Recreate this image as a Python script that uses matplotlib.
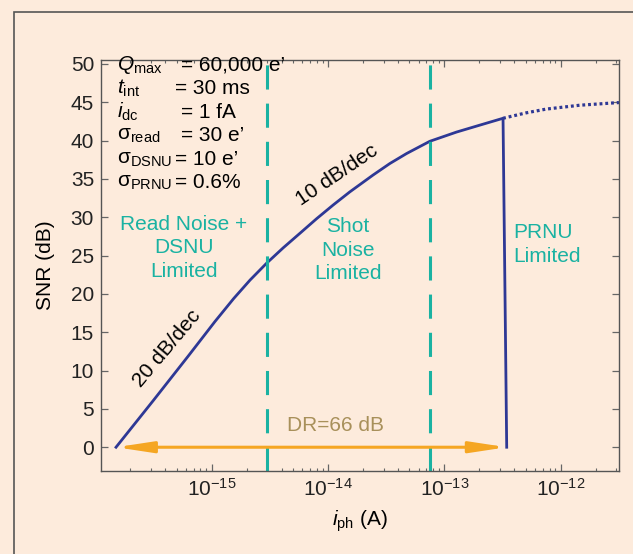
import numpy as np
import matplotlib
matplotlib.use("Agg")
import matplotlib.pyplot as plt
from matplotlib.patches import Rectangle
from matplotlib.ticker import FixedLocator, LogLocator, NullFormatter

plt.rcParams['font.family'] = ['Liberation Sans', 'DejaVu Sans']
plt.rcParams['mathtext.fontset'] = 'custom'
plt.rcParams['mathtext.rm'] = 'Liberation Sans'
plt.rcParams['mathtext.it'] = 'Liberation Sans:italic'
plt.rcParams['mathtext.bf'] = 'Liberation Sans:bold'

# SNR curve (photocurrent in A, SNR in dB)
i_solid = [1.51e-16, 3.16e-16, 6.31e-16, 1.07e-15, 1.55e-15, 2.14e-15, 2.97e-15,
           4.12e-15, 5.74e-15, 7.98e-15, 1.11e-14, 1.54e-14, 2.44e-14, 3.40e-14,
           4.73e-14, 7.50e-14, 1.27e-13, 2.01e-13, 3.19e-13, 3.43e-13]
snr_solid = [0.0, 6.1, 11.9, 16.4, 19.4, 21.8, 24.0,
             26.0, 27.9, 29.8, 31.6, 33.3, 35.5, 37.0,
             38.3, 39.9, 41.1, 42.0, 42.9, 0.0]

# saturated part (dotted)
i_dot = [3.19e-13, 5.01e-13, 7.5e-13, 1.45e-12, 3.16e-12]
snr_dot = [42.9, 43.6, 44.1, 44.6, 44.95]

# region boundaries and dynamic range arrow
bounds = [3.0e-15, 7.5e-14]
dr_range = [1.51e-16, 3.43e-13]
xticks = [1e-15, 1e-14, 1e-13, 1e-12]

params = [('$\\mathit{Q}_{\\mathrm{max}}$', '= 60,000 e\u2019'),
          ('$\\mathit{t}_{\\mathrm{int}}$', '= 30 ms'),
          ('$\\mathit{i}_{\\mathrm{dc}}$', '= 1 fA'),
          ('$\\mathrm{σ}_{\\mathrm{read}}$', '= 30 e\u2019'),
          ('$\\mathrm{σ}_{\\mathrm{DSNU}}$', '= 10 e\u2019'),
          ('$\\mathrm{σ}_{\\mathrm{PRNU}}$', '= 0.6%')]
eq_x = [181, 175, 181, 181, 175, 175]

bg = '#fdebdc'
navy = '#2e3895'
teal = '#1ab2a2'
orange = '#f5a623'
fs = 15

fig = plt.figure(figsize=(6.33, 5.54), dpi=100, facecolor=bg)
fig.patches.append(Rectangle((14 / 633, -0.1), 1.2, 1 - 12 / 554 + 0.1,
                             transform=fig.transFigure, fill=False,
                             edgecolor='#555555', lw=1.2))
ax = fig.add_axes([101 / 633, 1 - 471 / 554, 518 / 633, 411 / 554])
ax.set_facecolor(bg)

ax.plot(i_solid, snr_solid, color=navy, lw=2, solid_joinstyle='round')
ax.plot(i_dot, snr_dot, color=navy, lw=2.3, linestyle=(0, (0.9, 0.9)))

for b in bounds:
    ax.axvline(b, color=teal, lw=2.2, linestyle=(0, (7.9, 4.6)))

ax.annotate('', xy=(dr_range[1], 0), xytext=(dr_range[0], 0),
            arrowprops=dict(arrowstyle='<|-|>,head_length=1.45,head_width=0.22',
                            mutation_scale=15, color=orange, lw=2.2,
                            shrinkA=0, shrinkB=0))
ax.text(1.17e-14, 2.8, 'DR=66 dB', color='#a8905a', fontsize=fs,
        ha='center', va='center')

ax.text(5.8e-16, 26.0, 'Read Noise +\nDSNU\nLimited', color=teal, fontsize=fs,
        ha='center', va='center', linespacing=1.32)
ax.text(1.48e-14, 25.7, 'Shot\nNoise\nLimited', color=teal, fontsize=fs,
        ha='center', va='center', linespacing=1.32)
ax.text(3.94e-13, 26.4, 'PRNU\nLimited', color=teal, fontsize=fs,
        ha='left', va='center', linespacing=1.32)

ax.text(4.18e-16, 12.9, '20 dB/dec', rotation=50, fontsize=fs,
        ha='center', va='center', rotation_mode='anchor')
ax.text(1.19e-14, 35.5, '10 dB/dec', rotation=34, fontsize=fs,
        ha='center', va='center', rotation_mode='anchor')

for k, (lab, val) in enumerate(params):
    y = 1 - (65 + 23.6 * k) / 554
    fig.text(117 / 633, y, lab, fontsize=fs, ha='left', va='center')
    fig.text(eq_x[k] / 633, y, val, fontsize=fs, ha='left', va='center')

ax.set_xscale('log')
ax.set_xlim(10 ** -15.95, 10 ** -11.50)
ax.set_ylim(-3.1, 50.5)
ax.set_yticks(np.arange(0, 51, 5))
ax.xaxis.set_major_locator(FixedLocator(xticks))
ax.xaxis.set_minor_locator(LogLocator(base=10, subs=np.arange(2, 10), numticks=10))
ax.xaxis.set_minor_formatter(NullFormatter())

ax.tick_params(which='both', direction='in', top=True, right=True,
               color='#666666', labelsize=fs, labelcolor='#222222')
ax.tick_params(which='major', length=5, width=0.9, pad=5)
ax.tick_params(which='minor', length=2.5, width=0.8)
for s in ax.spines.values():
    s.set_color('#555555')
    s.set_linewidth(1.0)

ax.set_ylabel('SNR (dB)', fontsize=fs, labelpad=11)
ax.set_xlabel('$\\mathit{i}_{\\mathrm{ph}}$ (A)', fontsize=fs, labelpad=6)

fig.savefig('out.png', dpi=100, facecolor=bg)
